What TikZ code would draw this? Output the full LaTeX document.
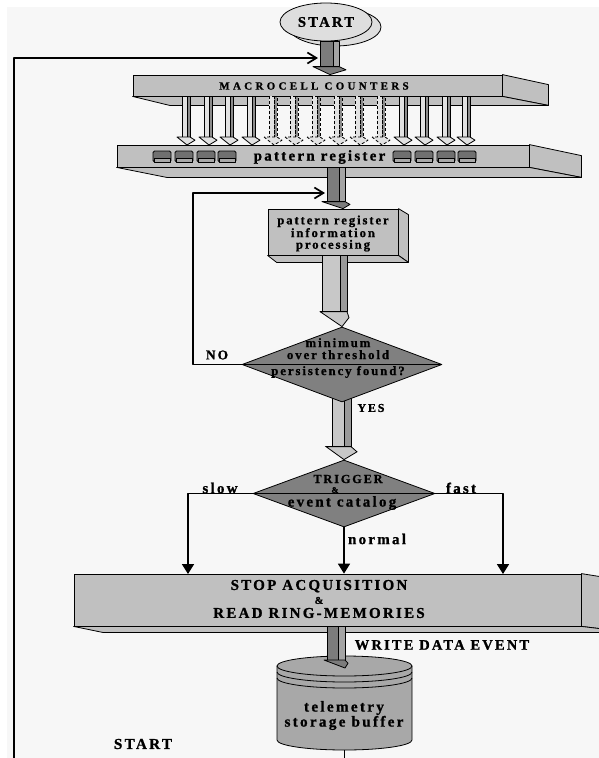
\documentclass[tikz,border=0pt]{standalone}
\usepackage{fontspec}
\setmainfont{Liberation Serif}
\newfontfamily\spf{Liberation Serif}[LetterSpace=15,BoldFeatures={FakeBold=1}]
\usetikzlibrary{calc,arrows.meta,shapes.geometric}
\definecolor{bgc}{HTML}{F7F7F7}
\definecolor{boxc}{HTML}{C0C0C0}
\definecolor{dia}{HTML}{808080}
\definecolor{stemc}{HTML}{7C7C7C}
\definecolor{stems}{HTML}{A4A4A4}
\definecolor{bigc}{HTML}{C8C8C8}
\definecolor{bigs}{HTML}{9A9A9A}
\definecolor{smc}{HTML}{E2E2E2}
\definecolor{sms}{HTML}{8C8C8C}
\definecolor{cylc}{HTML}{A8A8A8}
\definecolor{startc}{HTML}{DEDEDE}
\definecolor{keyc}{HTML}{707070}
\definecolor{keyl}{HTML}{A8A8A8}
\pgfdeclarelayer{back}
\pgfdeclarelayer{mid}
\pgfsetlayers{back,mid,main}
% fat 3D arrow: #1 from, #2 tip, #3 shaft-left offset, #4 front width, #5 side depth,
% #6 head length, #7 head overhang, #8 front fill, #9 side fill
\newcommand\fatarrow[9]{%
  \coordinate (fat) at ($(#1 -| #2)+(#3,0)$);
  \coordinate (fab) at ($(#2)+(#3,-#6)$);
  \filldraw[thinl,fa,fill=#9] ($(fat)+(#4,0)$) -- ($(fat)+(#4+#5,0)$) -- ($(fab)+(#4+#5,0)$) -- ($(fab)+(#4,0)$) -- cycle;
  \filldraw[thinl,fa,fill=#8] (fat) rectangle ($(fab)+(#4,0)$);
  \filldraw[thinl,fa,fill=#8] ($(fab)+(-#7,0)$) -- (#2) -- ($(fab)+(#4+#5+#7,0.4*#6)$) -- ($(fab)+(#4+#5,0)$) -- cycle;
}
% 3D slab faces: #1 node, #2 side dx, #3 side dy, #4 bottom dx, #5 bottom dy
\newcommand\slab[5]{%
  \filldraw[thinl,fill=boxc] (#1.north east) -- ++(#2,#3) -- ($(#1.south east)+(#2,#5)$) -- (#1.south east) -- cycle;
  \filldraw[thinl,fill=boxc] (#1.south west) -- ++(#4,#5) -- ($(#1.south east)+(#2,#5)$) -- (#1.south east) -- cycle;
}
\begin{document}
\begin{tikzpicture}[x=1pt,y=-1pt,line join=round,
  thinl/.style={draw=black,line width=0.8pt},
  fa/.style={},
  conn/.style={draw=black,line width=1.7pt},
  txt/.style={font=\spf\bfseries\fontsize{#1}{#1}\selectfont,inner sep=0pt,align=center,text=black},
  txtb/.style 2 args={font=\spf\bfseries\fontsize{#1}{#2}\selectfont,inner sep=0pt,align=center,text=black},
  boxn/.style={thinl,fill=boxc,inner sep=0pt},
  loopar/.style={-{Straight Barb[length=9pt,width=11pt]}},
  downar/.style={-{Triangle[length=10pt,width=12pt]}}]
\useasboundingbox (0,0) rectangle (599,758);
\clip (0,0) rectangle (599,758);
\begin{pgfonlayer}{back}
\fill[white] (0,0) rectangle (599,758);
\fill[bgc] (7,7) rectangle (599,758);
\end{pgfonlayer}

% START
\node[ellipse,thinl,fill=startc,minimum width=92pt,minimum height=38pt] (startb) at (335,27) {};
\node[ellipse,thinl,fill=startc,minimum width=92pt,minimum height=38pt,txt=14.7] (start) at (326,22) {START};

% MACROCELL COUNTERS
\node[boxn,minimum width=369pt,minimum height=21pt] (macro) at (317.5,85.5) {};
\slab{macro}{46}{10}{37}{9}
\node[txt=11] (macrot) at (314,86) {\addfontfeatures{LetterSpace=30}MACROCELL COUNTERS};

% pattern register
\node[boxn,minimum width=412pt,minimum height=22pt] (pattern) at (323,156) {};
\slab{pattern}{52}{11}{50}{10}
\foreach \k in {153,175,197,218,393,415,437,458}{
  \filldraw[thinl,fill=keyc,rounded corners=1.5pt] (\k,151) rectangle (\k+18,162);
  \filldraw[thinl,fill=keyl] (\k+1,158) rectangle (\k+17,162);
}
\node[txt=15] (patternt) at (319.5,157) {pattern register};

% small arrows
\foreach \x [count=\i] in {185,207,228,250,465,445,423,402}{
  \coordinate (sa\i) at (\x+2,145);
  \fatarrow{macro.south}{sa\i}{-5}{5}{3}{8}{5}{smc}{sms}
}
\begin{scope}[fa/.style={densely dashed}]
\foreach \x [count=\i] in {272,293,315,337,358,380}{
  \coordinate (sd\i) at (\x+2,145);
  \fatarrow{macro.south}{sd\i}{-5}{5}{3}{8}{5}{smc}{sms}
}
\end{scope}

% stem START -> MACROCELL
\coordinate (s1tip) at ([xshift=12.5pt]macro.north);
\fatarrow{start.south}{s1tip}{-10}{13}{6}{8}{7}{stemc}{stems}

% outer loop
\coordinate (l1a) at (14,758);
\coordinate (l1b) at (14,58);
\coordinate (l1c) at (318,58);
\draw[conn,loopar] (l1a) -- (l1b) -- (l1c);

% processing box
\node[boxn,minimum width=130pt,minimum height=46pt] (proc) at (333,232) {};
\slab{proc}{10}{6}{9}{7}
\node[txtb={12.7}{11.6}] (proct) at (333,233.5) {pattern register\\information\\processing};

% stem pattern -> proc
\coordinate (s2tip) at ([xshift=10pt]proc.north);
\fatarrow{pattern.south}{s2tip}{-16}{12}{6}{7}{5}{stemc}{stems}

% diamond 1
\node[diamond,thinl,fill=dia,minimum width=200pt,minimum height=75pt,inner sep=0pt] (d1) at (342,364.5) {};
\draw[thinl] (d1.west) -- (d1.east);
\node[txtb={12.8}{12}] (d1t) at (338,358) {minimum\\over threshold\\[4pt]persistency found?};

% big arrow proc -> d1
\fatarrow{proc.south}{d1.north}{-20}{18}{7}{15}{2}{bigc}{bigs}

% NO loop
\coordinate (l2c) at (193,193);
\coordinate (l2d) at (325,193);
\draw[conn,loopar] (d1.west) -| (l2c) -- (l2d);
\node[txt=13.5] (no) at (217,355) {NO};

% diamond 2
\node[diamond,thinl,fill=dia,minimum width=182pt,minimum height=67pt,inner sep=0pt] (d2) at (344,493.5) {};
\draw[thinl] (d2.west) -- (d2.east);
\node[txt=12.3] (d2a) at (348,479) {TRIGGER};
\node[txt=8.5] (d2b) at (335,490) {\&};
\node[txt=15] (d2c) at (342,503) {event catalog};

% big arrow d1 -> d2 (behind d1)
\coordinate (d1s) at ([yshift=5pt]d1.south);
\begin{pgfonlayer}{mid}
\fatarrow{d1s}{d2.north}{-12}{12}{7}{13}{6}{bigc}{bigs}
\end{pgfonlayer}
\node[txt=12] (yes) at (371,408) {YES};

% STOP box
\node[boxn,minimum width=507pt,minimum height=52pt] (stop) at (327.5,600) {};
\slab{stop}{50}{8}{29}{6}
\node[txtb={15}{14}] (stopt) at (319,599) {STOP ACQUISITION\\{\fontsize{10.5}{14}\selectfont\&}\\READ RING-MEMORIES};

% branches
\coordinate (slowend) at (188,574);
\coordinate (fastend) at (503,574);
\draw[conn,downar] (d2.west) -| (slowend);
\draw[conn,downar] (d2.south) -- (d2.south |- stop.north);
\draw[conn,downar] (d2.east) -| (fastend);
\node[txt=15] (slow) at (220,488) {slow};
\node[txt=15] (fast) at (461,488) {fast};
\node[txt=15] (normal) at (377,539) {normal};

% cylinder
\node[minimum width=135pt,minimum height=90pt,inner sep=0pt] (cyl) at (344.5,705) {};
\filldraw[thinl,fill=cylc] (277,666) -- (277,740) arc[start angle=180,end angle=0,x radius=67.5,y radius=10] -- (412,666) -- cycle;
\filldraw[thinl,fill=cylc] (344.5,666) ellipse [x radius=67.5,y radius=10];
\draw[thinl] (277,672) arc[start angle=180,end angle=0,x radius=67.5,y radius=10];
\draw[thinl] (277,678) arc[start angle=180,end angle=0,x radius=67.5,y radius=10];
\node[txtb={15.2}{15}] (cylt) at (344,715.5) {telemetry\\storage buffer};

% stem STOP -> cylinder
\coordinate (s3tip) at (345,668);
\fatarrow{stop.south}{s3tip}{-18}{11}{7}{8}{3}{stemc}{stems}
\node[txt=14.5] (wde) at (442,645) {WRITE DATA EVENT};

% bottom line
\coordinate (botend) at (344.5,758);
\draw[conn] (cyl.south) -- (botend);
\node[txt=15.2] (start2) at (143,744) {START};
\end{tikzpicture}
\end{document}
